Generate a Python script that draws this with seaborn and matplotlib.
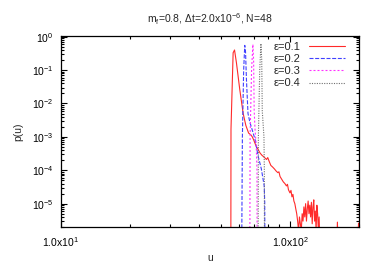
import matplotlib
matplotlib.use("Agg")
import matplotlib.pyplot as plt
import matplotlib.ticker as mticker
import numpy as np
import pandas as pd
import seaborn as sns

# ── data ────────────────────────────────────────────────────────────────────
LABELS = ["ε=0.1", "ε=0.2", "ε=0.3", "ε=0.4"]

U_01 = [55.2, 55.3, 56.5, 57.3, 58.4, 60.4, 62.5, 64.2, 66.0, 67.5, 68.5, 69.5,
        71.0, 72.6, 74.0, 75.5, 77.0, 78.0, 79.0, 80.0, 81.0, 82.5, 84.0, 85.5,
        87.0, 88.5, 89.5, 90.5, 92.0, 93.5, 95.0, 96.5, 97.5, 98.5, 100.0, 101.0,
        102.0, 103.0, 104.0, 105.0, 106.0, 107.0, 108.0, 109.0, 110.0, 111.0,
        112.0, 113.0, 114.0, 115.0, 116.0, 117.0, 118.0, 119.0, 120.0, 121.0,
        122.0, 123.0, 124.0, 125.0, 126.0, 127.0, 128.0, 129.0, 130.0, 131.0,
        132.0, 133.0, 134.0, 136.0, 159.0, 161.0, 163.0, 197.0, 199.0]
P_01 = [1e-7, 1.7e-3, 0.33, 0.40, 0.167, 0.026, 5.0e-3, 2.2e-3, 1.3e-3, 1.15e-3,
        1.0e-3, 8.0e-4, 5.5e-4, 4.2e-4, 3.3e-4, 2.8e-4, 2.5e-4, 2.3e-4, 2.1e-4,
        2.4e-4, 1.9e-4, 1.4e-4, 1.25e-4, 1.1e-4, 9.5e-5, 8.5e-5, 9.0e-5, 6.5e-5,
        5.4e-5, 4.5e-5, 4.0e-5, 3.4e-5, 3.8e-5, 2.6e-5, 2.1e-5, 2.5e-5, 1.6e-5,
        1.9e-5, 1.2e-5, 1.0e-5, 7e-6, 5e-6, 3e-6, 1.5e-6, 4e-6, 2.5e-6, 1.5e-6,
        5e-6, 3e-6, 8e-6, 4e-6, 1.0e-5, 3e-6, 7e-6, 1.2e-5, 5e-6, 9e-6, 4e-6,
        1.1e-5, 2.5e-6, 8e-6, 1.3e-5, 3e-6, 6e-6, 1.5e-6, 9e-6, 5e-6, 1.5e-6,
        4e-6, 1e-7, 1e-7, 2.8e-6, 1e-7, 1e-7, 2.6e-6]

U_02 = [61.5, 62.0, 62.8, 63.5, 64.0, 64.6, 65.6, 66.8, 69.1, 70.5, 72.6, 75.0,
        77.2, 77.6, 77.8]
P_02 = [1e-7, 1e-3, 0.1, 0.55, 0.35, 0.05, 5e-3, 2.8e-3, 1.3e-3, 8e-4, 2.7e-4,
        1.1e-4, 3.4e-5, 1.1e-5, 1e-7]

U_03 = [66.8, 67.0, 68.0, 68.9, 69.4, 69.8, 70.4, 71.3, 71.8, 71.9]
P_03 = [1e-7, 1e-3, 0.1, 0.59, 0.2, 6e-3, 1.7e-3, 5e-4, 1e-4, 1e-7]

U_04 = [72.6, 72.8, 73.8, 74.7, 75.3, 75.7, 76.5, 77.0, 77.3, 77.4]
P_04 = [1e-7, 1e-3, 0.1, 0.62, 0.2, 6e-3, 2e-3, 1e-3, 1e-4, 1e-7]

COLORS = ["#ff2a2a", "#4040ff", "#ff30ff", "#707070"]
DASHES = [None, (3.6, 1.5), (1.8, 1.8), (1.0, 1.2)]

sns.set_style("ticks")
plt.rcParams["font.family"] = ["Liberation Sans", "DejaVu Sans"]
plt.rcParams["mathtext.default"] = "regular"
plt.rcParams["font.size"] = 7.5

fig = plt.figure(figsize=(3.82, 2.67), dpi=100)
ax = fig.add_axes([60.7 / 382, 1 - 227 / 267, (359 - 60.7) / 382, (227 - 36) / 267])

series = [(U_01, P_01), (U_02, P_02), (U_03, P_03), (U_04, P_04)]
for (u, p), lbl, col, ds in zip(series, LABELS, COLORS, DASHES):
    df = pd.DataFrame({"u": u, "p": p})
    sns.lineplot(data=df, x="u", y="p", ax=ax, color=col, lw=0.8,
                 estimator=None, sort=False, label=lbl)
    if ds is not None:
        ax.lines[-1].set_dashes(ds)

ax.set_xscale("log")
ax.set_yscale("log")
ax.set_xlim(10, 200)
ax.set_ylim(2e-6, 1.05)

ax.xaxis.set_major_locator(mticker.FixedLocator([10, 100]))
ax.xaxis.set_major_formatter(mticker.FixedFormatter(["1.0x10$^{1}$", "1.0x10$^{2}$"]))
ax.xaxis.set_minor_locator(mticker.LogLocator(base=10, subs=np.arange(2, 10)))
ax.xaxis.set_minor_formatter(mticker.NullFormatter())
ax.yaxis.set_major_locator(mticker.FixedLocator([1e0, 1e-1, 1e-2, 1e-3, 1e-4, 1e-5]))
ax.yaxis.set_major_formatter(mticker.FixedFormatter(
    ["10$^{0}$", "10$^{-1}$", "10$^{-2}$", "10$^{-3}$", "10$^{-4}$", "10$^{-5}$"]))
ax.yaxis.set_minor_locator(mticker.LogLocator(base=10, subs=np.arange(2, 10), numticks=20))
ax.yaxis.set_minor_formatter(mticker.NullFormatter())

ax.tick_params(which="both", direction="in", top=True, right=True, width=0.8,
               colors="black", labelsize=7.5)
ax.tick_params(which="major", length=4)
ax.tick_params(which="minor", length=2)
ax.tick_params(axis="x", pad=6)
ax.tick_params(axis="y", pad=5)
for sp in ax.spines.values():
    sp.set_linewidth(0.9)
    sp.set_color("black")

ax.set_xlabel("u", fontsize=7.5, labelpad=3)
ax.set_ylabel("p(u)", fontsize=7.5, labelpad=6)
ax.set_title("m$_{f}$=0.8, Δt=2.0x10$^{-6}$, N=48", fontsize=7.5, pad=9)

ax.legend(loc="upper right", bbox_to_anchor=(0.953, 0.97), frameon=False,
          markerfirst=False, handlelength=3.25, handletextpad=0.75,
          labelspacing=0.2, borderaxespad=0, borderpad=0, fontsize=8)

fig.savefig("out.png", dpi=100)
